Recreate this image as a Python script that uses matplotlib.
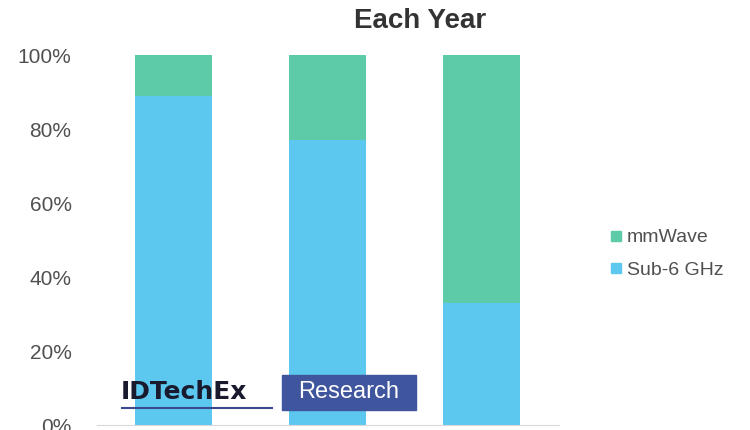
import numpy as np
import matplotlib as mpl
mpl.use('Agg')
import matplotlib.pyplot as plt
from matplotlib.patches import Rectangle
from matplotlib.lines import Line2D

plt.rcParams['font.family'] = ['Liberation Sans', 'DejaVu Sans']

years = ['2020', '2025', '2030']   # categories (labels cropped out in the reference)
sub6 = [89, 77, 33]
mmwave = [11, 23, 67]
series_names = ['mmWave', 'Sub-6 GHz']
yticks = [0, 20, 40, 60, 80, 100]

col_sub6 = '#5cc8f0'
col_mm = '#5ecba8'
txt = '#505050'

fig = plt.figure(figsize=(7.5, 4.3), dpi=100)
ax = fig.add_axes([0.1287, 0.0116, 0.616, 0.860])

x = np.arange(len(years))
ax.bar(x, sub6, width=0.5, color=col_sub6, label=series_names[1], zorder=2)
ax.bar(x, mmwave, width=0.5, bottom=sub6, color=col_mm, label=series_names[0], zorder=2)

ax.set_xlim(-0.5, 2.5)
ax.set_ylim(0, 100)
ax.set_yticks(yticks)
ax.set_yticklabels(['%d%%' % v for v in yticks], fontsize=15, color=txt)
ax.set_xticks([])
ax.tick_params(axis='y', length=0, pad=18)
for s in ['top', 'right', 'left']:
    ax.spines[s].set_visible(False)
ax.spines['bottom'].set_color('#d9d9d9')

fig.text(0.56, 0.952, 'Each Year', ha='center', va='center', fontsize=20,
         fontweight='bold', color='#333333')

handles = [Line2D([], [], marker='s', ls='none', color=col_mm, markersize=7),
           Line2D([], [], marker='s', ls='none', color=col_sub6, markersize=7)]
fig.legend(handles, series_names, loc='center left', bbox_to_anchor=(0.788, 0.41),
           frameon=False, fontsize=14, handletextpad=0.15, labelspacing=0.75,
           labelcolor=txt, handlelength=0.8)

# IDTechEx logo
fig.text(0.161, 0.088, 'IDTechEx', fontsize=18, fontweight='bold', color='#1a1a2e',
         ha='left', va='center', family='DejaVu Sans')
fig.add_artist(Line2D([0.163, 0.362], [0.051, 0.051], color='#3b4a8c', lw=1.5,
                      transform=fig.transFigure))
fig.add_artist(Rectangle((0.376, 0.046), 0.178, 0.083, color='#3f559e',
                         transform=fig.transFigure))
fig.text(0.465, 0.088, 'Research', fontsize=17, color='white', ha='center', va='center')

fig.savefig('out.png')
